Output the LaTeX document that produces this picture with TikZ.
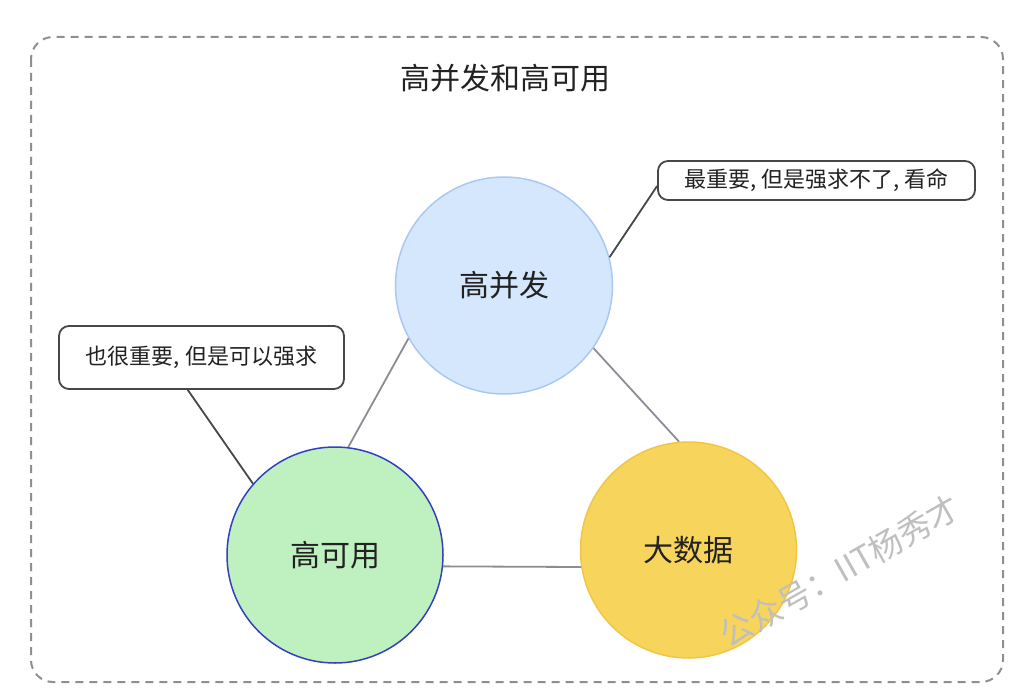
\documentclass[tikz,border=0pt]{standalone}
\usepackage{fontspec}
\setmainfont{Noto Sans CJK SC}
\usepackage{tikz}

\definecolor{framegray}{HTML}{8C9096}
\definecolor{linkgray}{HTML}{8A8E94}
\definecolor{notegray}{HTML}{45474B}
\definecolor{textdark}{HTML}{222222}
\definecolor{bluefill}{HTML}{D4E7FC}
\definecolor{blueline}{HTML}{A9C9F2}
\definecolor{greenfill}{HTML}{BFF0BF}
\definecolor{greenline}{HTML}{3340C0}
\definecolor{yellowfill}{HTML}{F7D55C}
\definecolor{yellowline}{HTML}{F2C544}

\begin{document}
\begin{tikzpicture}[x=1pt,y=-1pt,
		topic/.style={draw,shape=circle,minimum size=216pt,inner sep=0pt,line width=1.5pt,text=textdark,font=\fontsize{30}{36}\selectfont},
		note/.style={draw=notegray,line width=1.8pt,rounded corners=10pt,fill=white,text=textdark,inner sep=0pt,font=\fontsize{22}{26}\selectfont},
		link/.style={draw=linkgray,line width=1.8pt},
		callout/.style={draw=notegray,line width=1.8pt}]
		\useasboundingbox (0,0) rectangle (1024,700);
		\draw[framegray,line width=2pt,dash pattern=on 8pt off 6pt,rounded corners=22pt] (31,37) rectangle (1003,682);

		\path (505,78) node[text=textdark,font=\fontsize{30}{36}\selectfont] (title) {高并发和高可用}
		(504,285.5) node[topic,fill=bluefill,draw=blueline,minimum size=217pt] (hc) {高并发}
		(335,555) node[topic,fill=greenfill,draw=greenline] (ha) {高可用}
		(688.5,550) node[topic,fill=yellowfill,draw=yellowline] (bd) {大数据}
		(816.5,180.5) node[note,minimum width=317pt,minimum height=39pt] (n1) {最重要, 但是强求不了, 看命}
		(201.5,357.5) node[note,minimum width=285pt,minimum height=63pt] (n2) {也很重要, 但是可以强求}
		(840,571) node[rotate=29.6,text=black!25,font=\fontsize{33}{36}\selectfont] (wm) {公众号：IIT杨秀才};

		\draw[link] (hc.209) -- (ha.83)
		(hc.325) -- (bd.95)
		(ha.354) -- (bd.189);
		\draw[callout] (n1.182) -- (hc.15)
		(n2.247) -- (ha.139);

	\end{tikzpicture}
\end{document}
